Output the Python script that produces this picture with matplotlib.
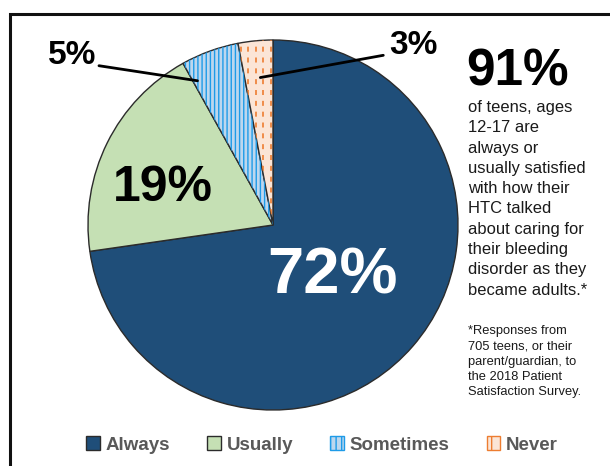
import numpy as np
import matplotlib.pyplot as plt
from matplotlib.patches import Patch

plt.rcParams['font.family'] = ['Liberation Sans', 'DejaVu Sans']

# data
labels = ['Always', 'Usually', 'Sometimes', 'Never']
values = [72, 19, 5, 3]
pct_labels = ['72%', '19%', '5%', '3%']
colors = ['#1F4E79', '#C5E0B4', '#BDD7EE', '#FBE5D6']
headline = '91%'
blurb = ('of teens, ages\n12-17 are\nalways or\nusually satisfied\nwith how their\n'
         'HTC talked\nabout caring for\ntheir bleeding\ndisorder as they\nbecame adults.*')
footnote = ('*Responses from\n705 teens, or their\nparent/guardian, to\n'
            'the 2018 Patient\nSatisfaction Survey.')

W, H = 610, 466
fig = plt.figure(figsize=(W / 100, H / 100), dpi=100)
ax = fig.add_axes([0, 0, 1, 1])

cx, cy, r = 273, H - 225, 185
wedges, _ = ax.pie(values, colors=colors, startangle=90, counterclock=False,
                   center=(cx, cy), radius=r,
                   wedgeprops=dict(edgecolor='#2b2b2b', linewidth=1))

# vertical stripes on "Sometimes"
over, _ = ax.pie(values, colors=['none'] * 4, startangle=90, counterclock=False,
                 center=(cx, cy), radius=r, wedgeprops=dict(linewidth=0))
over[2].set_edgecolor('#1E9BE8')
over[2].set_hatch('||||')
for i in (0, 1, 3):
    over[i].set_visible(False)

# dashed orange lines on "Never"
xs = np.arange(cx - 40, cx + 10, 7.5)
vl = ax.vlines(xs, cy, cy + r, colors='#ED7D31', linewidth=1.2,
               linestyles=(0, (3, 3.5)))
vl.set_clip_path(wedges[3])

ax.set_xlim(0, W)
ax.set_ylim(0, H)
ax.set_aspect('equal')
ax.axis('off')

# frame
ax.plot([10, 10, W], [0, H - 14, H - 14], color='#111111', linewidth=2.2,
        solid_joinstyle='miter')

# labels inside
ax.text(333, H - 277, pct_labels[0], color='white', fontsize=47,
        fontweight='bold', ha='center', va='center')
ax.text(163, H - 188, pct_labels[1], color='black', fontsize=36,
        fontweight='bold', ha='center', va='center')


def wedge_point(w, t, frac):
    a = np.deg2rad(w.theta1 + t * (w.theta2 - w.theta1))
    return cx + frac * r * np.cos(a), cy + frac * r * np.sin(a)


ax.annotate(pct_labels[2], xy=wedge_point(wedges[2], 0.92, 0.88), xytext=(72, H - 56),
            fontsize=24, fontweight='bold', ha='center', va='center',
            arrowprops=dict(arrowstyle='-', color='black', lw=2,
                            relpos=(1.0, 0.2), shrinkA=0, shrinkB=0))
ax.annotate(pct_labels[3], xy=wedge_point(wedges[3], 0.45, 0.80), xytext=(413, H - 45),
            fontsize=24, fontweight='bold', ha='center', va='center',
            arrowprops=dict(arrowstyle='-', color='black', lw=2,
                            relpos=(0.0, 0.2), shrinkA=2, shrinkB=0))

# right side text
ax.text(518, H - 72, headline, fontsize=37, fontweight='bold',
        ha='center', va='center')
ax.text(468, H - 100, blurb, fontsize=11.9, ha='left', va='top', linespacing=1.44,
        color='#1a1a1a')
ax.text(468, H - 325, footnote, fontsize=9.3, ha='left', va='top',
        linespacing=1.37, color='#1a1a1a')

# legend
handles = [Patch(facecolor=colors[0], edgecolor='#2b2b2b'),
           Patch(facecolor=colors[1], edgecolor='#2b2b2b'),
           Patch(facecolor=colors[2], edgecolor='#1E9BE8', hatch='|||'),
           Patch(facecolor=colors[3], edgecolor='#ED7D31', hatch='|')]
leg = fig.legend(handles, labels, loc='center', bbox_to_anchor=(322 / W, 1 - 445 / H),
                 ncol=4, frameon=False, handlelength=0.72, handleheight=0.72,
                 handletextpad=0.3, columnspacing=2.0,
                 prop=dict(size=13.5, weight='bold'))
for t in leg.get_texts():
    t.set_color('#595959')

fig.savefig('out.png', dpi=100)
